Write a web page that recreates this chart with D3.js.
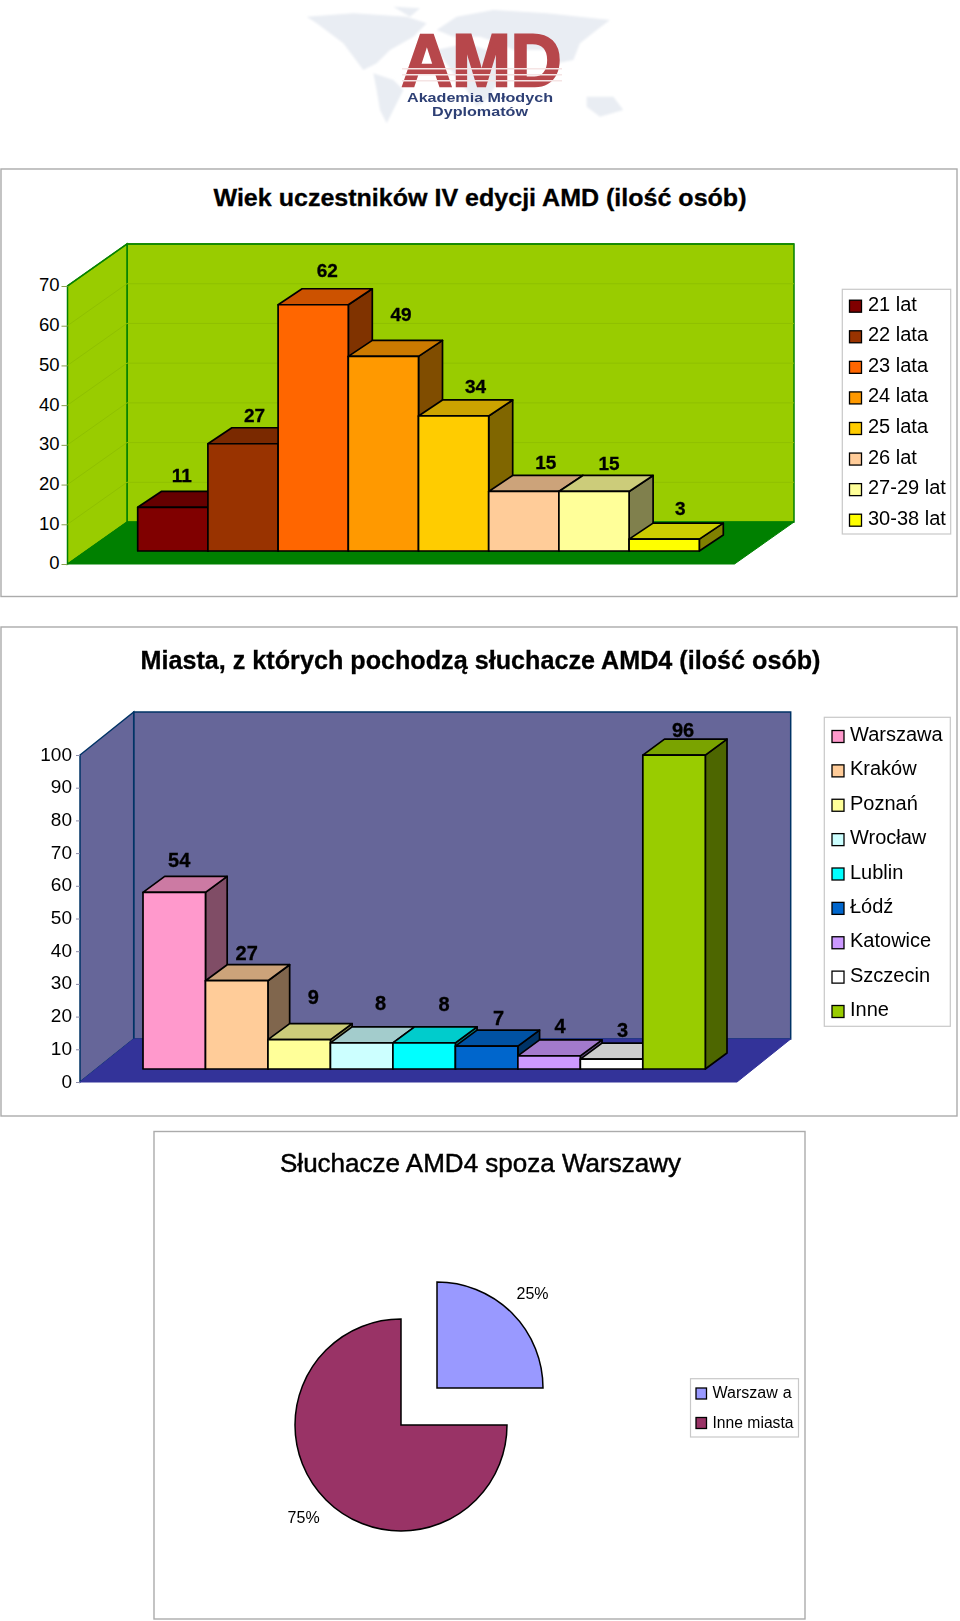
<!DOCTYPE html>
<html lang="pl">
<head>
<meta charset="utf-8">
<title>AMD</title>
<script src="https://cdn.jsdelivr.net/npm/d3@7"></script>
<style>
html,body{margin:0;padding:0;background:#fff}
svg{display:block;filter:blur(0.35px)}
text{font-family:"Liberation Sans",Arial,sans-serif;fill:#000}
</style>
</head>
<body>
<svg id="page" width="960" height="1621" viewBox="0 0 960 1621"></svg>
<script>
// ---- data -------------------------------------------------------------
const ageCategories = ["21 lat","22 lata","23 lata","24 lata","25 lata","26 lat","27-29 lat","30-38 lat"];
const ageValues     = [11,27,62,49,34,15,15,3];
const ageColors     = ["#800000","#993300","#ff6600","#ff9900","#ffcc00","#ffcc99","#ffff99","#ffff00"];
const ageTicks      = [0,10,20,30,40,50,60,70];

const cityCategories = ["Warszawa","Kraków","Poznań","Wrocław","Lublin","Łódź","Katowice","Szczecin","Inne"];
const cityValues     = [54,27,9,8,8,7,4,3,96];
const cityColors     = ["#ff99cc","#ffcc99","#ffff99","#ccffff","#00ffff","#0066cc","#cc99ff","#ffffff","#99cc00"];
const cityTicks      = [0,10,20,30,40,50,60,70,80,90,100];

const pieCategories = ["Warszawa","Inne miasta"];
const pieValues     = [25,75];
const pieColors     = ["#9999ff","#993366"];

// ---- helpers ----------------------------------------------------------
const svg = d3.select("#page");
const shade = (c,k)=>{const r=d3.rgb(c);return d3.rgb(r.r*k,r.g*k,r.b*k).formatHex();};
const pts = a=>a.map(p=>p.join(",")).join(" ");

function frame(x0,y0,x1,y1){
  svg.append("rect").attr("x",x0).attr("y",y0).attr("width",x1-x0).attr("height",y1-y0)
    .attr("fill","#fff").attr("stroke","#ababab").attr("stroke-width",1.4);
}
function title(txt,cx,cy,size,weight,len,heavy){
  svg.append("text").attr("x",cx).attr("y",cy).attr("dy",".35em").attr("text-anchor","middle")
    .attr("font-size",size).attr("font-weight",weight)
    .attr("stroke","#000").attr("stroke-width",heavy)
    .attr("textLength",len).attr("lengthAdjust","spacingAndGlyphs").text(txt);
}
function legend(cfg){
  const g=svg.append("g");
  g.append("rect").attr("x",cfg.x0).attr("y",cfg.y0).attr("width",cfg.x1-cfg.x0).attr("height",cfg.y1-cfg.y0)
    .attr("fill","#fff").attr("stroke","#c8c8c8").attr("stroke-width",1.2);
  const rows=d3.scalePoint().domain(cfg.names).range([cfg.first,cfg.last]);
  cfg.names.forEach((n,i)=>{
    g.append("rect").attr("x",cfg.sx).attr("y",rows(n)-cfg.sw/2+cfg.swDy).attr("width",cfg.sw).attr("height",cfg.sw)
      .attr("fill",cfg.colors[i]).attr("stroke","#000").attr("stroke-width",1.3);
    g.append("text").attr("x",cfg.tx).attr("y",rows(n)).attr("dy",".35em").attr("font-size",cfg.size).text(n);
  });
}

function chart3d(c){
  const g=svg.append("g");
  const y=d3.scaleLinear().domain(c.domain).range([c.y0,c.yTop]);
  const dx=c.depthX, dy=c.depthY;
  const xL=c.wallX, xB=xL+dx, xR=c.backRight;
  const yB=y(c.domain[1]);
  // walls and floor
  g.append("polygon").attr("points",pts([[xB,y(0)-dy],[xB,yB-dy],[xR,yB-dy],[xR,y(0)-dy]]))
    .attr("fill",c.wall).attr("stroke",c.edge).attr("stroke-width",1.5);
  g.append("polygon").attr("points",pts([[xL,y(0)],[xL,yB],[xB,yB-dy],[xB,y(0)-dy]]))
    .attr("fill",c.wall).attr("stroke",c.edge).attr("stroke-width",1.5);
  g.append("polygon").attr("points",pts([[xL,y(0)],[xB,y(0)-dy],[xR,y(0)-dy],[xR-dx,y(0)]]))
    .attr("fill",c.floor).attr("stroke",c.floor).attr("stroke-width",1);
  // grid lines
  if(c.grid){
    c.ticks.filter(t=>t>0).forEach(t=>{
      g.append("polyline").attr("points",pts([[xL,y(t)],[xB,y(t)-dy],[xR,y(t)-dy]]))
        .attr("fill","none").attr("stroke",c.grid).attr("stroke-width",1);
    });
    g.append("line").attr("x1",xL).attr("x2",xB).attr("y1",yB).attr("y2",yB-dy).attr("stroke",c.edge).attr("stroke-width",1.5);
    g.append("line").attr("x1",xB).attr("x2",xR).attr("y1",yB-dy).attr("y2",yB-dy).attr("stroke",c.edge).attr("stroke-width",1.5);
  }
  // value axis
  const ax=g.append("g").attr("transform",`translate(${xL},0)`)
    .call(d3.axisLeft(y).tickValues(c.ticks).tickSize(c.tick).tickPadding(c.tickPad));
  ax.select(".domain").remove();
  ax.selectAll(".tick line").attr("stroke",c.tickColor).attr("stroke-width",1);
  ax.selectAll("text").attr("font-size",c.tickSize).attr("font-family",'"Liberation Sans",Arial,sans-serif').attr("fill","#000")
    .attr("y",-1);
  // bars
  const x=d3.scaleBand().domain(c.names).range(c.barRange);
  const base=c.y0-c.barBase;
  const by=v=>y(v)-c.barBase;
  c.names.forEach((n,i)=>{
    const v=c.values[i], l=x(n), r=l+x.bandwidth(), t=by(v), col=c.colors[i];
    const b=g.append("g").attr("stroke","#000").attr("stroke-width",1.7).attr("stroke-linejoin","round");
    b.append("polygon").attr("points",pts([[r,t],[r+c.barDX,t-c.barDY],[r+c.barDX,base-c.barDY],[r,base]])).attr("fill",shade(col,.5));
    b.append("polygon").attr("points",pts([[l,t],[l+c.barDX,t-c.barDY],[r+c.barDX,t-c.barDY],[r,t]])).attr("fill",shade(col,.8));
    b.append("rect").attr("x",l).attr("y",t).attr("width",x.bandwidth()).attr("height",base-t).attr("fill",col);
  });
  // value labels
  c.names.forEach((n,i)=>{
    g.append("text").attr("x",x(n)+x.bandwidth()/2+c.labelDX[i]).attr("y",by(c.values[i])+c.labelDY[i])
      .attr("dy",".35em").attr("text-anchor","middle").attr("font-weight","bold").attr("font-size",c.labelSize)
      .attr("stroke","#000").attr("stroke-width",.3)
      .text(c.values[i]);
  });
}

// ---- logo -------------------------------------------------------------
(function logo(){
  const defs=svg.append("defs");
  defs.append("filter").attr("id","soft").append("feGaussianBlur").attr("stdDeviation",1.3);
  defs.append("filter").attr("id","softer").append("feGaussianBlur").attr("stdDeviation",.4);
  const m=svg.append("g").attr("filter","url(#soft)").attr("fill","#e9edf3");
  const outline=d3.line().x(p=>280+p[0]/3).y(p=>p[1]/3).curve(d3.curveLinearClosed);
  [
   [[80,50],[220,40],[380,50],[440,70],[400,110],[330,150],[290,190],[250,210],[190,130],[110,70]],
   [[280,220],[340,240],[370,270],[340,330],[320,370],[300,330],[290,270]],
   [[340,20],[420,25],[390,50]],
   [[470,90],[530,50],[640,30],[800,40],[990,60],[950,90],[900,130],[880,180],[830,190],[800,150],[700,150],[660,130],[600,110],[520,110]],
   [[470,150],[560,130],[650,160],[670,220],[620,300],[590,320],[560,270],[520,220]],
   [[920,290],[1000,290],[1030,330],[960,350],[920,320]]
  ].forEach(d=>m.append("path").attr("d",outline(d)));
  const a=svg.append("g").attr("filter","url(#softer)");
  a.append("text").attr("x",481.5).attr("y",85.5).attr("text-anchor","middle").attr("font-size",74).attr("font-weight","bold")
    .attr("stroke","#b7474c").attr("stroke-width",2.5).attr("stroke-linejoin","miter")
    .attr("textLength",160).attr("lengthAdjust","spacingAndGlyphs").style("fill","#b7474c").text("AMD");
  [68,74,80].forEach(s=>a.append("rect").attr("x",402).attr("y",s).attr("width",160).attr("height",1.5).attr("fill","#f5e4e4"));
  a.append("text").attr("x",480).attr("y",97.5).attr("dy",".35em").attr("text-anchor","middle").attr("font-size",13).attr("font-weight","bold")
    .attr("textLength",146).attr("lengthAdjust","spacingAndGlyphs").style("fill","#2d3f74").text("Akademia Młodych");
  a.append("text").attr("x",480).attr("y",111.5).attr("dy",".35em").attr("text-anchor","middle").attr("font-size",13).attr("font-weight","bold")
    .attr("textLength",96).attr("lengthAdjust","spacingAndGlyphs").style("fill","#2d3f74").text("Dyplomatów");
})();

// ---- chart 1 ----------------------------------------------------------
frame(1,169,957,596.5);
title("Wiek uczestników IV edycji AMD (ilość osób)",480,198,24,"bold",533,.3);
chart3d({names:ageCategories,values:ageValues,colors:ageColors,ticks:ageTicks,domain:[0,70],
  y0:564,yTop:286,wallX:67.5,depthX:59.5,depthY:42,backRight:794,
  wall:"#99cc00",floor:"#008000",edge:"#008000",grid:"#8fc000",tick:6,tickPad:2,tickColor:"#88a050",tickSize:18.5,
  barRange:[137.7,699.3],barBase:13,barDX:24,barDY:16,labelSize:19,
  labelDX:[9,11.5,14,17.6,22,22,15,16],labelDY:[-32,-28,-34,-42,-30,-29,-28,-31]});
legend({names:ageCategories,colors:ageColors,x0:842.3,y0:289.3,x1:950.7,y1:534,first:303.7,last:517.7,
  sx:849.5,sw:12,swDy:2.5,tx:868,size:20});

// ---- chart 2 ----------------------------------------------------------
frame(1,627,957,1116);
title("Miasta, z których pochodzą słuchacze AMD4 (ilość osób)",480.5,659.5,26,"bold",680,.3);
chart3d({names:cityCategories,values:cityValues,colors:cityColors,ticks:cityTicks,domain:[0,100],
  y0:1082,yTop:755,wallX:80,depthX:53.7,depthY:43,backRight:790.7,
  wall:"#666699",floor:"#333399",edge:"#003366",grid:null,tick:4,tickPad:4,tickColor:"#8a8aa8",tickSize:19,
  barRange:[143,705.3],barBase:13,barDX:21.7,barDY:16,labelSize:20,
  labelDX:[5,10,14,19,20,12,11,11,9],labelDY:[-32,-28,-43,-40,-39,-28,-30,-29,-25]});
legend({names:cityCategories,colors:cityColors,x0:824.3,y0:717.3,x1:950.3,y1:1026.3,first:734,last:1009,
  sx:832,sw:12,swDy:2.5,tx:850,size:20});

// ---- chart 3 ----------------------------------------------------------
frame(154,1131.5,805,1619);
title("Słuchacze AMD4 spoza Warszawy",480.5,1163,25,"normal",401,.45);
(function(){
  const pieGen=d3.pie().sort(null)(pieValues);
  const arc=d3.arc().innerRadius(0).outerRadius(106);
  const centers=[[437,1388],[401,1425]];
  pieGen.forEach((s,i)=>{
    svg.append("path").attr("d",arc(s)).attr("transform",`translate(${centers[i]})`)
      .attr("fill",pieColors[i]).attr("stroke","#000").attr("stroke-width",1.5).attr("stroke-linejoin","miter");
  });
  const fmt=d3.format(".0%"), total=d3.sum(pieValues);
  const labelAt=[[532.5,1293],[303.6,1517]];
  pieValues.forEach((v,i)=>{
    svg.append("text").attr("x",labelAt[i][0]).attr("y",labelAt[i][1]).attr("dy",".35em").attr("text-anchor","middle")
      .attr("font-size",16).text(fmt(v/total));
  });
  // legend
  const x0=690.5,x1=798.5,y0=1378.7,y1=1437;
  svg.append("rect").attr("x",x0).attr("y",y0).attr("width",x1-x0).attr("height",y1-y0)
    .attr("fill","#fff").attr("stroke","#c8c8c8").attr("stroke-width",1.2);
  const rows=d3.scalePoint().domain(pieCategories).range([1392.5,1422]);
  pieCategories.forEach((n,i)=>{
    svg.append("rect").attr("x",696).attr("y",rows(n)-4.5).attr("width",10.5).attr("height",11)
      .attr("fill",pieColors[i]).attr("stroke","#000").attr("stroke-width",1.3);
    const t=svg.append("text").attr("x",712.5).attr("y",rows(n)).attr("dy",".35em").attr("font-size",16);
    if(i===0){
      // the reference shows a small gap before the last letter
      t.append("tspan").text(n.slice(0,-1));
      t.append("tspan").attr("dx",5).text(n.slice(-1));
    } else {
      t.attr("textLength",81).attr("lengthAdjust","spacingAndGlyphs").text(n);
    }
  });
})();
</script>
</body>
</html>
